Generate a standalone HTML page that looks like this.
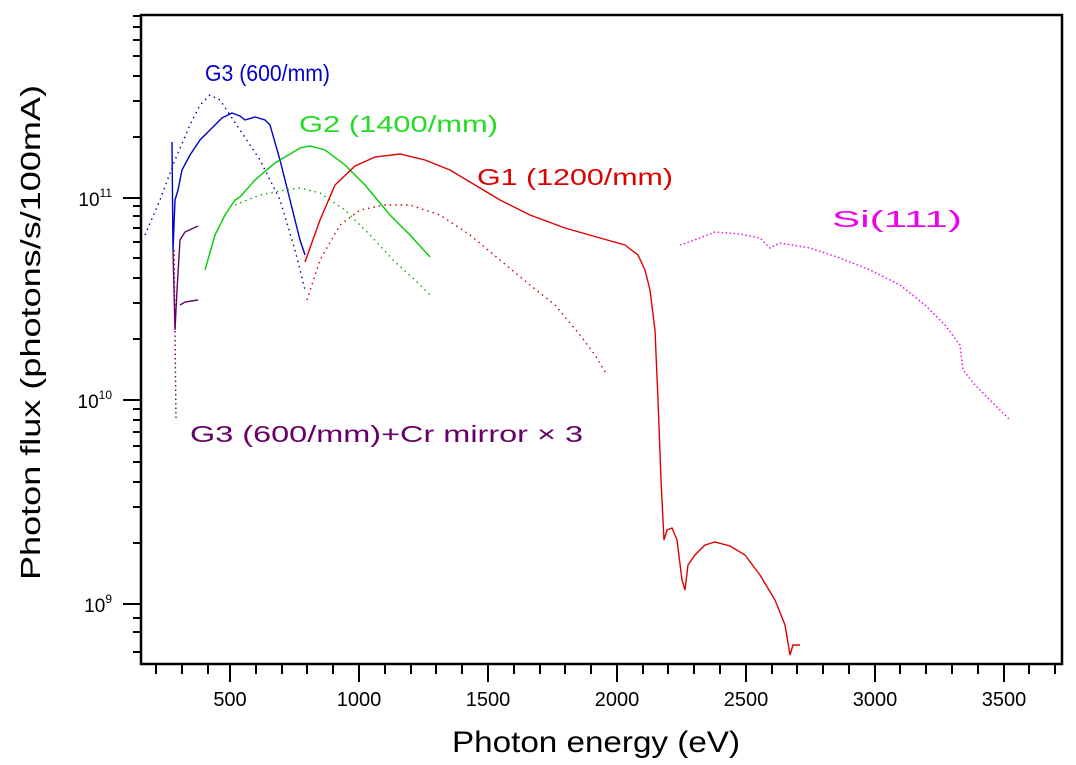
<!DOCTYPE html><html><head><style>body{margin:0;background:#fff}svg{display:block}text{font-family:"Liberation Sans",sans-serif}</style></head><body>
<svg width="1076" height="765" viewBox="0 0 1076 765">
<rect x="141" y="15" width="921" height="649" fill="none" stroke="#000" stroke-width="2.5"/>
<g stroke="#000" stroke-width="2">
<path d="M156 664v10M182 664v10M208 664v10M230 664v18M256 664v10M282 664v10M307 664v10M333 664v10M359 664v18M385 664v10M411 664v10M436 664v10M462 664v10M488 664v18M514 664v10M540 664v10M565 664v10M591 664v10M617 664v18M643 664v10M668 664v10M694 664v10M720 664v10M746 664v18M772 664v10M797 664v10M823 664v10M849 664v10M875 664v18M900 664v10M926 664v10M952 664v10M978 664v10M1004 664v18M1029 664v10M1055 664v10"/>
<path d="M141 198h-18M141 400h-18M141 604h-18
M141 137h-8M141 101h-8M141 76h-8M141 56h-8M141 40h-8M141 27h-8M141 16h-8
M141 339h-8M141 303h-8M141 278h-8M141 258h-8M141 242h-8M141 228h-8M141 216h-8M141 206h-8
M141 543h-8M141 507h-8M141 482h-8M141 462h-8M141 446h-8M141 432h-8M141 420h-8M141 409h-8
M141 652h-8M141 632h-8M141 618h-8"/>
</g>
<g font-size="20" text-anchor="middle" fill="#000">
<text x="230" y="706">500</text><text x="359" y="706">1000</text><text x="488" y="706">1500</text><text x="617" y="706">2000</text><text x="746" y="706">2500</text><text x="875" y="706">3000</text><text x="1004" y="706">3500</text>
</g>
<g font-size="19" fill="#000" text-anchor="end">
<text x="112" y="206">10<tspan font-size="12" dy="-9">11</tspan></text>
<text x="112" y="408">10<tspan font-size="12" dy="-9">10</tspan></text>
<text x="112" y="612">10<tspan font-size="12" dy="-9">9</tspan></text>
</g>
<text x="452" y="752" font-size="30" textLength="288" lengthAdjust="spacingAndGlyphs">Photon energy (eV)</text>
<text transform="translate(40,580) rotate(-90)" font-size="28" textLength="495" lengthAdjust="spacingAndGlyphs">Photon flux (photons/s/100mA)</text>
<g fill="none" stroke-width="1.4">
<path stroke="#0000cc" d="M172 142L173 250L175 200L178 190L182 170L190 155L200 140L210 130L222 118L232 113L240 116L245 120L255 117L265 120L270 125L280 160L290 200L300 240L305 255"/>
<path stroke="#0000aa" stroke-dasharray="1.5 4" d="M145 235L160 200L175 160L190 125L200 105L210 95L220 100L240 130L260 160L280 200L295 250L305 290"/>
<path stroke="#660066" d="M173 250L175 330L177 290L180 240L185 232L198 226"/>
<path stroke="#660066" d="M180 305L185 302L198 300"/>
<path stroke="#660066" stroke-dasharray="1.5 3" d="M174 250L175 330L176 420"/>
<path stroke="#00cc00" d="M205 270L215 235L225 215L235 200L240 197L255 180L275 163L300 148L310 146L325 150L345 165L365 185L390 215L410 235L430 257"/>
<path stroke="#00aa00" stroke-dasharray="1.5 4" d="M235 205L260 195L285 190L300 188L320 193L345 210L370 235L395 262L415 280L430 295"/>
<path stroke="#dd0000" d="M305 262L320 220L335 185L355 166L375 157L400 154L425 160L450 170L475 185L500 200L530 215L565 228L600 238L625 245L638 255L645 270L650 290L655 330L658 400L661 480L664 540L667 530L672 528L677 540L682 580L685 590L688 565L695 555L705 545L715 542L730 546L745 555L760 575L775 600L785 625L790 655L793 645L800 645"/>
<path stroke="#cc0000" stroke-dasharray="1.5 4" d="M307 300L320 260L340 225L360 210L385 205L410 205L440 215L470 235L500 260L530 285L555 305L580 335L595 355L607 375"/>
<path stroke="#ee00ee" stroke-dasharray="1.5 2.5" d="M680 245L700 238L715 232L740 234L760 238L770 248L780 243L810 248L840 258L870 270L900 285L925 305L945 325L960 345L963 370L975 385L990 400L1010 420"/>
</g>
<g font-size="23">
<text x="205" y="81" fill="#0000cc" textLength="125" lengthAdjust="spacingAndGlyphs">G3 (600/mm)</text>
<text x="299" y="132" fill="#22dd22" textLength="199" lengthAdjust="spacingAndGlyphs">G2 (1400/mm)</text>
<text x="477" y="185" fill="#dd0000" textLength="196" lengthAdjust="spacingAndGlyphs">G1 (1200/mm)</text>
<text x="832" y="227" fill="#ee00ee" textLength="130" lengthAdjust="spacingAndGlyphs">Si(111)</text>
<text x="190" y="442" fill="#660066" textLength="393" lengthAdjust="spacingAndGlyphs">G3 (600/mm)+Cr mirror × 3</text>
</g>
</svg></body></html>
